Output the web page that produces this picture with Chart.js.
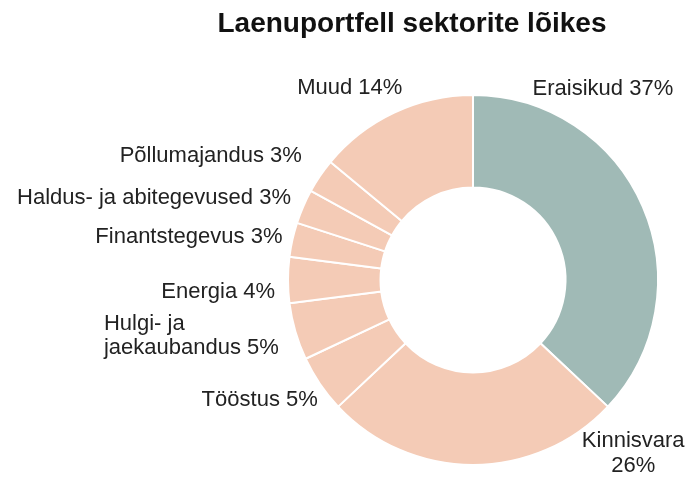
<!DOCTYPE html>
<html>
<head>
<meta charset="utf-8">
<script src="https://cdn.jsdelivr.net/npm/chart.js@4/dist/chart.umd.min.js"></script>
<style>
html,body{margin:0;padding:0;background:#fff;}
#wrap{width:686px;height:477px;position:relative;}
</style>
</head>
<body>
<div id="wrap"><canvas id="c" width="686" height="477"></canvas></div>
<script>
const title = "Laenuportfell sektorite lõikes";
const categories = ["Eraisikud", "Kinnisvara", "Tööstus", "Hulgi- ja jaekaubandus", "Energia", "Finantstegevus", "Haldus- ja abitegevused", "Põllumajandus", "Muud"];
const values = [37, 26, 5, 5, 4, 3, 3, 3, 14];
const labelLines = [
  ["Eraisikud 37%"],
  ["Kinnisvara", "26%"],
  ["Tööstus 5%"],
  ["Hulgi- ja", "jaekaubandus 5%"],
  ["Energia 4%"],
  ["Finantstegevus 3%"],
  ["Haldus- ja abitegevused 3%"],
  ["Põllumajandus 3%"],
  ["Muud 14%"]
];

const TEAL = "#a0bab6", PEACH = "#f4cbb6";
const colors = values.map((v, i) => i === 0 ? TEAL : PEACH);

// label placement: offset from doughnut centre in units of outer radius, text alignment
const labelLayout = [
  {dx: 0.322, dy: -1.032, align: "left"},
  {dx: 0.866, dy: 0.871, align: "center"},
  {dx: -0.839, dy: 0.651, align: "right"},
  {dx: -1.995, dy: 0.237, align: "left"},
  {dx: -1.070, dy: 0.065, align: "right"},
  {dx: -1.030, dy: -0.231, align: "right"},
  {dx: -0.984, dy: -0.446, align: "right"},
  {dx: -0.925, dy: -0.672, align: "right"},
  {dx: -0.382, dy: -1.038, align: "right"}
];

const labelPlugin = {
  id: "outerLabels",
  afterDraw(chart) {
    const ctx = chart.ctx;
    const meta = chart.getDatasetMeta(0);
    const arc0 = meta.data[0];
    const cx = arc0.x, cy = arc0.y, R = arc0.outerRadius;
    ctx.save();
    ctx.fillStyle = "#222222";
    ctx.font = "22px 'Liberation Sans', Arial, sans-serif";
    ctx.textBaseline = "middle";
    labelLines.forEach((lines, i) => {
      const L = labelLayout[i];
      const x = cx + L.dx * R, y = cy + L.dy * R;
      ctx.textAlign = L.align;
      lines.forEach((t, j) => ctx.fillText(t, x, y + j * 24.5));
    });
    ctx.font = "bold 28px 'Liberation Sans', Arial, sans-serif";
    ctx.textAlign = "center";
    ctx.textBaseline = "alphabetic";
    ctx.fillStyle = "#111";
    ctx.fillText(title, 412, 32);
    ctx.restore();
  }
};

new Chart(document.getElementById("c"), {
  type: "doughnut",
  data: {
    labels: categories,
    datasets: [{
      data: values,
      backgroundColor: colors,
      borderColor: "#ffffff",
      borderWidth: 2,
      hoverOffset: 0
    }]
  },
  options: {
    responsive: false,
    animation: false,
    cutout: "50%",
    layout: {padding: {left: 287, right: 27, top: 94, bottom: 11}},
    plugins: {
      legend: {display: false},
      title: {display: false},
      tooltip: {enabled: false}
    }
  },
  plugins: [labelPlugin]
});
</script>
</body>
</html>
